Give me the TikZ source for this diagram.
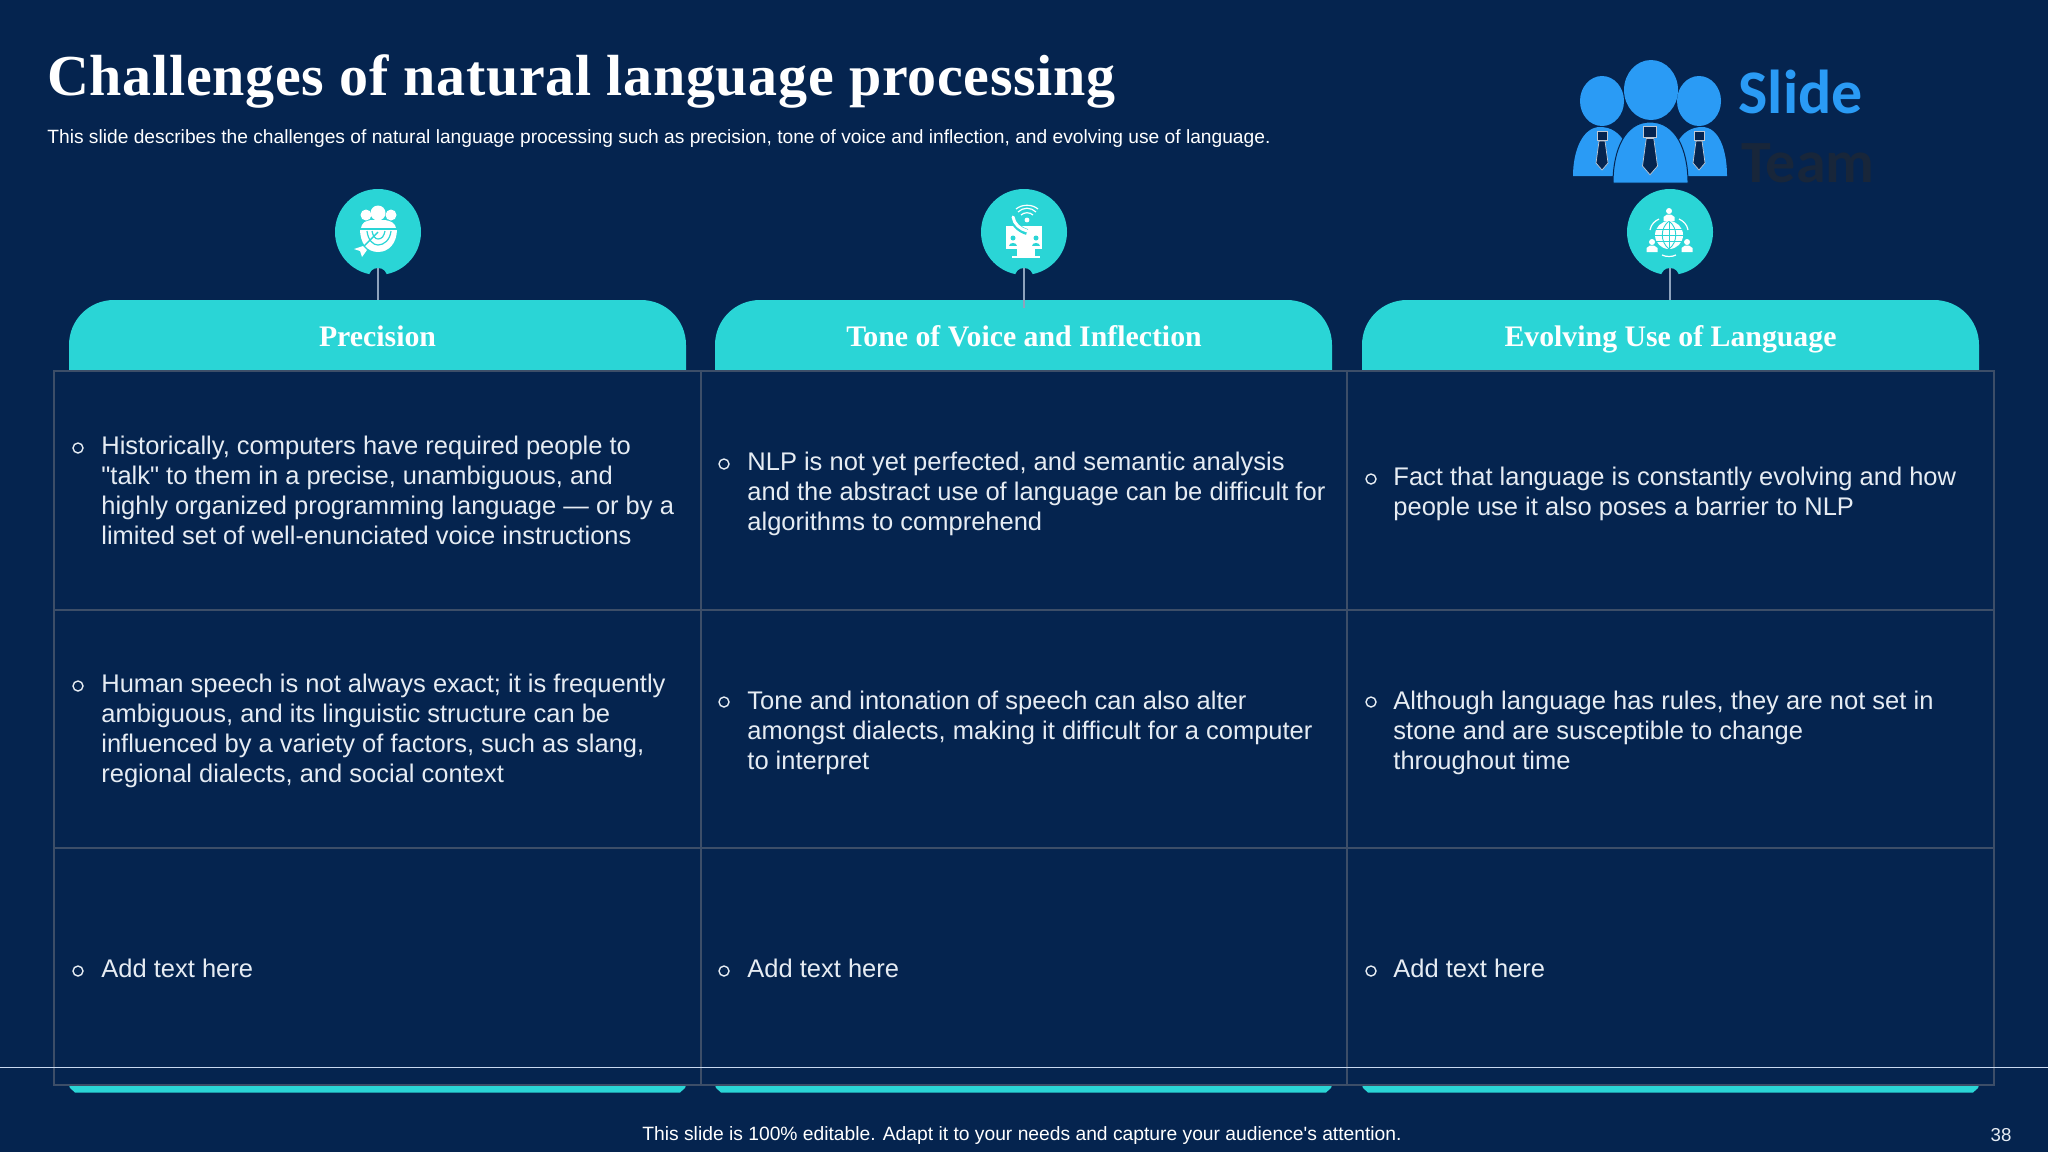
\documentclass[tikz,border=0pt]{standalone}
\usepackage{fontspec}
\setmainfont{Liberation Sans}[Ligatures=TeXOff]
\newfontfamily\serifbold[LetterSpace=1.2]{Liberation Serif Bold}
\newfontfamily\headbold{Liberation Serif Bold}
\newfontfamily\logofont{Carlito Bold}
\definecolor{bg}{HTML}{05244F}
\definecolor{teal}{HTML}{2AD5D6}
\definecolor{gridc}{HTML}{3D4E68}
\definecolor{stem}{HTML}{8EA2BC}
\definecolor{body}{HTML}{E6ECF3}
\definecolor{logob}{HTML}{2A9BF5}
\definecolor{logod}{HTML}{18263A}
\definecolor{footl}{HTML}{C9D9F0}
\tikzset{
  x=0.5pt,y=-0.5pt,
  gridline/.style={draw=gridc,line width=1pt},
  headfill/.style={fill=teal,draw=none},
  headlabel/.style={inner sep=0pt,minimum width=308.5pt,minimum height=35pt,text=white,font=\headbold\fontsize{14.9}{16}\selectfont},
  pinc/.style={circle,fill=teal,inner sep=0pt,minimum size=43pt},
  notch/.style={circle,fill=bg,inner sep=0pt,minimum size=9pt},
  stemline/.style={draw=stem,line width=0.6pt},
  bul/.style={circle,draw=body,line width=0.7pt,inner sep=0pt,minimum size=5pt},
  txt/.style={anchor=west,inner sep=0pt,align=left,text=body,font=\fontsize{12.75}{15}\selectfont},
  ico/.style={fill=white,draw=none},
  icol/.style={draw=white,line width=0.6pt,fill=none},
  icod/.style={draw=teal,line width=0.5pt},
  tie/.style={fill=bg,draw=white!75!bg,line width=0.35pt},
}
\begin{document}
\begin{tikzpicture}
\useasboundingbox (0,0) rectangle (2048,1152);
\fill[bg] (0,0) rectangle (2048,1152);
% title
\node[anchor=west,inner sep=0pt,text=white,font=\serifbold\fontsize{29}{32}\selectfont] (title) at (47,81) {Challenges of natural language processing};
\node[anchor=west,inner sep=0pt,text=white,font=\fontsize{9.6}{11}\selectfont] (sub) at (47,139) {This slide describes the challenges of natural language processing such as precision, tone of voice and inflection, and evolving use of language.};
% logo
\fill[logob] (1573,176) .. controls (1573,150) and (1583,127) .. (1600,127) .. controls (1622,127) and (1632,150) .. (1632,176) -- cycle;
\fill[logob] (1670,176) .. controls (1670,150) and (1680,127) .. (1702,127) .. controls (1719,127) and (1727,150) .. (1727,176) -- cycle;
\fill[logob] (1602,101) ellipse (22 and 25);
\fill[logob] (1699,101) ellipse (22 and 25);
\filldraw[fill=logob,draw=bg,line width=0.5pt] (1613,183) .. controls (1613,150) and (1625,122) .. (1650,122) .. controls (1676,122) and (1688,150) .. (1688,183) -- cycle;
\fill[logob] (1651,90) ellipse (27 and 30);
\foreach \tx/\ty/\ts in {1602/131/1,1699/131/1,1650/126/1.25}{
  \begin{scope}[shift={(\tx,\ty)},scale=\ts]
    \filldraw[tie] (-5,0) rectangle (5,9);
    \filldraw[tie] (-3,10) -- (3,10) -- (6,32) -- (0,39) -- (-6,32) -- cycle;
  \end{scope}
}
\node[anchor=west,inner sep=0pt,text=logob,font=\logofont\fontsize{31}{33}\selectfont] (slide) at (1738,92) {Slide};
\node[anchor=west,inner sep=0pt,text=logod,font=\logofont\fontsize{30}{33}\selectfont] (team) at (1741,163) {Team};
% headers and bottom strips
\foreach \xa/\xb in {69/686,715/1332,1362/1979}{
  \fill[teal] (\xa,370) -- (\xa,345) .. controls (\xa,320) and ({\xa+20},300) .. ({\xa+45},300) -- ({\xb-45},300) .. controls ({\xb-20},300) and (\xb,320) .. (\xb,345) -- (\xb,370) -- cycle;
  \fill[teal] (\xa,1085) -- (\xb,1085) -- ({\xb-1},1088) -- ({\xb-6},1092.5) -- ({\xa+6},1092.5) -- ({\xa+1},1088) -- cycle;
}
\node[headlabel] (h1) at (377.5,340) {\strut Precision};
\node[headlabel] (h2) at (1024,340) {\strut Tone of Voice and Inflection};
\node[headlabel] (h3) at (1670.5,340) {\strut Evolving Use of Language};
% pins
\node[pinc] (c1) at (378,232) {};
\node[pinc] (c2) at (1024,232) {};
\node[pinc] (c3) at (1670,232) {};
\fill[bg] (350,275) rectangle (406,282);
\fill[bg] (996,275) rectangle (1052,282);
\fill[bg] (1642,275) rectangle (1698,282);
\node[notch] (n1) at (378,277) {};
\node[notch] (n2) at (1024,277) {};
\node[notch] (n3) at (1670,277) {};
\coordinate (s1) at (378,300);
\coordinate (s2) at (1024,308);
\coordinate (s3) at (1670,300);
\draw[stemline] (n1.north) -- (s1);
\draw[stemline] (n2.north) -- (s2);
\draw[stemline] (n3.north) -- (s3);
% icon 1
\fill[ico] (378,213) circle (7.5);
\fill[ico] (366,215) circle (5.5);
\fill[ico] (391,215) circle (5.5);
\fill[ico] (361,230) .. controls (361,222) and (366,221) .. (371,220) -- (385,220) .. controls (390,221) and (396,222) .. (396,230) -- cycle;
\fill[ico] (360,229) -- (397,229) .. controls (397,243) and (389,252) .. (378,252) .. controls (367,252) and (360,243) .. (360,229) -- cycle;
\draw[teal,line width=0.6pt] (360,229) -- (397,229);
\draw[teal,line width=0.6pt] (367,231) .. controls (368,240) and (373,245) .. (378,245) .. controls (384,245) and (390,240) .. (391,231);
\draw[teal,line width=0.6pt] (372,231) .. controls (373,236) and (375,239) .. (378,239) .. controls (382,239) and (384,236) .. (385,231);
\draw[teal,line width=0.7pt] (378,232) -- (364,246);
\fill[ico] (354,249) -- (363,246) -- (367,250) -- (362,257) -- (360,251) -- cycle;
% icon 2
\fill[ico] (1006,226) rectangle (1042,249);
\fill[ico] (1017,249) rectangle (1035,256);
\fill[ico] (1012,256) rectangle (1040,257.5);
\foreach \px in {1013,1036}{
  \fill[teal] (\px,238) circle (2.5);
  \fill[teal] ({\px-4},246) .. controls ({\px-4},242) and ({\px+4},242) .. ({\px+4},246) -- cycle;
}
\draw[teal,line width=3pt] (1012,216) .. controls (1013,224) and (1020,230) .. (1027,232);
\draw[white,line width=1.5pt,line cap=round] (1013,217) .. controls (1014,224) and (1020,229) .. (1027,231);
\fill[ico] (1027,220) circle (2.4);
\draw[icol] (1021,215) .. controls (1024,212) and (1030,212) .. (1033,215);
\draw[icol] (1018,212) .. controls (1023,207) and (1031,207) .. (1036,212);
\draw[icol] (1016,209) .. controls (1022,204) and (1032,204) .. (1038,209);
% icon 3
\fill[ico] (1669,235) circle (14);
\draw[teal,line width=0.45pt] (1655,235) -- (1683,235) (1656,229) -- (1682,229) (1656,241) -- (1682,241) (1669,221) -- (1669,249);
\draw[teal,line width=0.45pt] (1669,221) .. controls (1660,228) and (1660,242) .. (1669,249) (1669,221) .. controls (1678,228) and (1678,242) .. (1669,249);
\foreach \qx/\qy in {1669/211,1652/242,1687/242}{
  \fill[ico] (\qx,\qy) circle (3);
  \fill[ico] ({\qx-5.5},{\qy+10}) -- ({\qx-5.5},{\qy+6}) -- ({\qx-2},{\qy+3.5}) -- ({\qx+2},{\qy+3.5}) -- ({\qx+5.5},{\qy+6}) -- ({\qx+5.5},{\qy+10}) -- cycle;
}
\draw[icol] (1650,230) .. controls (1651,224) and (1655,221) .. (1659,219);
\draw[icol] (1688,230) .. controls (1687,224) and (1683,221) .. (1679,219);
\draw[icol] (1662,255) .. controls (1666,257) and (1672,257) .. (1676,255);
% table
\draw[gridline] (54,371) rectangle (1994,1085);
\draw[gridline] (54,610) -- (1994,610) (54,848) -- (1994,848);
\draw[gridline] (701,371) -- (701,1085) (1347,371) -- (1347,1085);
% cell text
\node[txt] (t11) at (101,490) {Historically, computers have required people to\\"talk" to them in a precise, unambiguous, and\\highly organized programming language — or by a\\limited set of well-enunciated voice instructions};
\node[txt] (t12) at (747,494) {NLP is not yet perfected, and semantic analysis\\and the abstract use of language can be difficult for\\algorithms to comprehend};
\node[txt] (t13) at (1393,494) {Fact that language is constantly evolving and how\\people use it also poses a barrier to NLP};
\node[txt] (t21) at (101,731) {Human speech is not always exact; it is frequently\\ambiguous, and its linguistic structure can be\\influenced by a variety of factors, such as slang,\\regional dialects, and social context};
\node[txt] (t22) at (747,733) {Tone and intonation of speech can also alter\\amongst dialects, making it difficult for a computer\\to interpret};
\node[txt] (t23) at (1393,733) {Although language has rules, they are not set in\\stone and are susceptible to change\\throughout time};
\node[txt] (t31) at (101,968) {Add text here};
\node[txt] (t32) at (747,968) {Add text here};
\node[txt] (t33) at (1393,968) {Add text here};
\foreach \nm/\bx/\by in {b11/78/448,b12/724/464,b13/1371/479,b21/78/686,b22/724/702,b23/1371/702,b31/78/971,b32/724/971,b33/1371/971}{
  \node[bul] (\nm) at (\bx,\by) {};
}
% footer
\draw[footl,line width=0.5pt] (0,1067) -- (2048,1067);
\node[inner sep=0pt,text=white,font=\fontsize{9.63}{11}\selectfont] (foot) at (1022,1135) {This slide is 100\% editable. Adapt it to your needs and capture your audience's attention.};
\node[inner sep=0pt,text=body,font=\fontsize{9.35}{11}\selectfont] (pg) at (2001,1135) {38};
\end{tikzpicture}
\end{document}
